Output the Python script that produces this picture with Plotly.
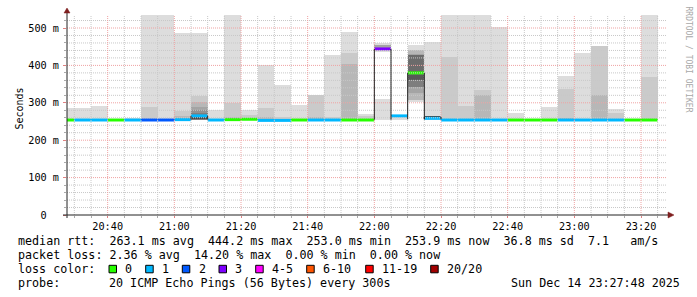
import plotly.graph_objects as go
from datetime import datetime, timedelta

DATE = "2025-12-14"
interval_end = ["20:30", "20:35", "20:40", "20:45", "20:50", "20:55",
                "21:00", "21:05", "21:10", "21:15", "21:20", "21:25",
                "21:30", "21:35", "21:40", "21:45", "21:50", "21:55",
                "22:00", "22:05", "22:10", "22:15", "22:20", "22:25",
                "22:30", "22:35", "22:40", "22:45", "22:50", "22:55",
                "23:00", "23:05", "23:10", "23:15", "23:20", "23:25"]
median_ms = [254, 254, 254, 254, 254, 254, 254, 255, 265, 254, 255, 256,
             253, 253, 254, 254, 254, 254, 254, 444, 265, 380, 258.5, 254,
             254, 254, 254, 254, 254, 254, 254, 254, 254, 254, 254, 254]
lost_pings = [0, 1, 1, 0, 1, 2, 2, 1, 1, 1, 0, 0,
              1, 1, 0, 1, 1, 0, 0, 3, 1, 0, 1, 1,
              1, 1, 1, 0, 0, 0, 1, 1, 1, 1, 0, 0]
smoke_min = [253, 253, 253, 253, 253, 253, 253, 253, 253, 253, 253, 253,
             253, 253, 253, 253, 253, 253, 253, 255, 254, 303, 253, 253,
             253, 253, 253, 253, 253, 253, 253, 253, 253, 253, 253, 253]
smoke_max = [287, 287, 291, 256, 260, 560, 560, 486, 486, 281, 560, 282,
             401, 348, 294, 321, 428, 490, 270, 461, 268, 455, 463, 560,
             560, 560, 503, 273, 256, 288, 371, 434, 453, 283, 256, 560]
smoke_q2 = [None, None, None, None, None, 290, 258, 278, 318, None, 300, 267,
            287, 262, 258, 320, 262, 432, 265, None, None, None, None, 423,
            291, 334, None, None, None, None, 336, 258, 452, 273, None, 370]
smoke_q3 = [None, None, None, None, None, None, None, 266, 301, None, 262, None,
            262, None, None, 262, None, 405, None, None, None, None, None, None,
            None, 322, None, None, None, None, 260, None, 322, None, None, 258]

# extra inner smoke bands (interval end, low, high, shade level)
extra_end = ["21:10", "21:10", "21:10", "21:10", "21:10", "22:05",
             "22:15", "22:15", "22:15", "22:15", "22:15", "22:20"]
extra_lo = [253, 254, 255, 256, 256, 447, 307, 325, 343, 361, 361, 262]
extra_hi = [289, 280, 274, 268, 263, 455, 441, 430, 428, 428, 375, 265]
extra_level = [4, 5, 6, 7, 9, 4, 3, 4, 6, 7, 8, 9]

# empty (unfilled) part of the smoke
gap_end = ["22:05"]
gap_lo = [310]
gap_hi = [435]

# dark outlines min..median
edge_end = ["21:10", "22:05", "22:15", "22:20"]
edge_lo = [256, 255, 256, 256]
edge_hi = [265, 444, 380, 262]

y_tick_vals = [0, 100, 200, 300, 400, 500]
y_tick_text = ["0\u00a0\u00a0", "100\u00a0m", "200\u00a0m", "300\u00a0m", "400\u00a0m", "500\u00a0m"]
x_tick_text = ["20:40", "21:00", "21:20", "21:40", "22:00", "22:20", "22:40", "23:00", "23:20"]

loss_colors = ["#26ff00", "#00b8ff", "#0059ff", "#7e00ff", "#ff00ff", "#ff5500", "#ff0000", "#a10000"]
loss_labels = ["0", "1", "2", "3", "4-5", "6-10", "11-19", "20/20"]

legend_line1 = "median rtt:  263.1 ms avg  444.2 ms max  253.0 ms min  253.9 ms now  36.8 ms sd  7.1   am/s"
legend_line2 = "packet loss: 2.36 % avg  14.20 % max  0.00 % min  0.00 % now"
probe_text = "20 ICMP Echo Pings (56 Bytes) every 300s"
stamp_text = "Sun Dec 14 23:27:48 2025"

# ---------------------------------------------------------------
FIVE = timedelta(minutes=5)


def t(hm):
    return datetime.strptime(DATE + " " + hm, "%Y-%m-%d %H:%M")


def shade(level):
    if level == 0:
        return "#ffffff"
    g = int(190 / 10 * (10 - level)) + 50
    return "rgb(%d,%d,%d)" % (g, g, g)


ends = [t(h) for h in interval_end]
centers = [e - FIVE / 2 for e in ends]

fig = go.Figure()


def add_band(xs, lo, hi, color):
    fig.add_trace(go.Bar(x=xs, y=[h - l for l, h in zip(lo, hi)], base=lo,
                         width=[300000] * len(xs), marker=dict(color=color, line=dict(width=0)),
                         hoverinfo="skip", showlegend=False))


add_band(centers, smoke_min, smoke_max, shade(1))
for q, lvl in ((smoke_q2, 2), (smoke_q3, 3)):
    xs, lo, hi = [], [], []
    for c, m, v in zip(centers, smoke_min, q):
        if v is not None:
            xs.append(c); lo.append(m); hi.append(v)
    add_band(xs, lo, hi, shade(lvl))

add_band([t(h) - FIVE / 2 for h in gap_end], gap_lo, gap_hi, "#ffffff")
for e, l, h, lv in zip(extra_end, extra_lo, extra_hi, extra_level):
    add_band([t(e) - FIVE / 2], [l], [h], shade(lv))

for k in sorted(set(lost_pings)):
    mx, my = [], []
    for e, m, lp in zip(ends, median_ms, lost_pings):
        if lp == k:
            mx += [e - FIVE, e, None]
            my += [m, m, None]
    fig.add_trace(go.Scatter(x=mx, y=my, mode="lines", line=dict(color=loss_colors[k], width=3),
                             hoverinfo="skip", showlegend=False))

# ---------------------------------------------------------------
L, R, T, B = 67, 30, 15, 82
W, H = 697, 297
PW, PH = W - L - R, H - T - B
YMAX = PH / 0.374
x0 = datetime(2025, 12, 14, 20, 27, 48)
x1 = datetime(2025, 12, 14, 23, 27, 48)


def px(x):
    return (x - L) / PW


def py(y):
    return (T + PH - y) / PH


shapes = []
MINOR = "#c8c8c8"
MAJOR = "#efa3a3"
for v in range(20, 540, 20):
    if v > YMAX:
        break
    shapes.append(dict(type="line", xref="paper", yref="y", x0=0, x1=1, y0=v, y1=v, layer="above",
                       line=dict(color=MAJOR if v % 100 == 0 else MINOR, width=1, dash="1px,1px")))
g = datetime(2025, 12, 14, 20, 30)
while g < x1:
    major = (g.minute % 20 == 0)
    shapes.append(dict(type="line", xref="x", yref="paper", x0=g, x1=g, y0=0, y1=1, layer="above",
                       line=dict(color=MAJOR if major else MINOR, width=1, dash="1px,1px")))
    g += FIVE

# dark smoke outlines, drawn over the grid
for e, l, h in zip(edge_end, edge_lo, edge_hi):
    for xe in (t(e) - FIVE, t(e)):
        shapes.append(dict(type="line", xref="x", yref="y", x0=xe, x1=xe, y0=l, y1=h, layer="above",
                           line=dict(color="#222222", width=1)))

AX = "#222222"
ARROW = "#7f1f1f"
shapes.append(dict(type="line", xref="paper", yref="paper", x0=px(63), x1=px(669), y0=0, y1=0,
                   layer="above", line=dict(color=AX, width=1)))
shapes.append(dict(type="line", xref="paper", yref="paper", x0=0, x1=0, y0=py(218), y1=py(12),
                   layer="above", line=dict(color=AX, width=1)))
shapes.append(dict(type="path", xref="paper", yref="paper", layer="above",
                   path="M %f,%f L %f,%f L %f,%f Z" % (px(64), py(13), px(70), py(13), px(67), py(8)),
                   fillcolor=ARROW, line=dict(color=ARROW, width=0.5)))
shapes.append(dict(type="path", xref="paper", yref="paper", layer="above",
                   path="M %f,%f L %f,%f L %f,%f Z" % (px(668), py(212), px(668), py(218), px(674), py(215)),
                   fillcolor=ARROW, line=dict(color=ARROW, width=0.5)))

MONO = "DejaVu Sans Mono"
LEG = 11.7
annotations = []


def text(x, y, s, size=LEG, color="#000000", anchor="left", angle=0):
    annotations.append(dict(x=px(x), y=py(y), xref="paper", yref="paper", text=s.replace(" ", "\u00a0"),
                            showarrow=False, xanchor=anchor, yanchor="middle", textangle=angle,
                            font=dict(family=MONO, size=size, color=color)))


text(16, 241, legend_line1)
text(16, 254.5, legend_line2)
text(16, 268.5, "loss color:")
box_x = [109, 145.7, 182.3, 219, 255.7, 306.7, 365.7, 430.7]
for bx, col, lab in zip(box_x, loss_colors, loss_labels):
    shapes.append(dict(type="rect", xref="paper", yref="paper", x0=px(bx), x1=px(bx + 7.5),
                       y0=py(272.8), y1=py(265.3), fillcolor=col, line=dict(color="#000000", width=1)))
    text(bx + 14.2, 268.5, lab)
text(16, 282.5, "probe:")
text(107.3, 282.5, probe_text)
text(681.5, 282.5, stamp_text, anchor="right")
text(11, 109, "Seconds", size=10, angle=-90)
annotations.append(dict(x=px(687.5), y=py(59), xref="paper", yref="paper", text="RRDTOOL / TOBI OETIKER".replace(" ", "\u00a0"),
                        showarrow=False, xanchor="center", yanchor="middle", textangle=90,
                        font=dict(family=MONO, size=8, color="#a8a8a8")))

fig.update_layout(
    width=W, height=H, margin=dict(l=L, r=R, t=T, b=B, pad=0),
    paper_bgcolor="#ffffff", plot_bgcolor="#ffffff",
    barmode="overlay", bargap=0, showlegend=False,
    shapes=shapes, annotations=annotations,
    font=dict(family=MONO, size=10.2, color="#000000"),
    xaxis=dict(type="date", range=[x0, x1], showgrid=False, zeroline=False, showline=False,
               tickvals=[t(s) for s in x_tick_text], ticktext=x_tick_text,
               ticks="outside", ticklen=2, tickcolor="#e08080",
               tickfont=dict(family=MONO, size=10.2, color="#000000"),
               minor=dict(dtick=300000, tick0=t("20:30"), ticks="outside", ticklen=2, tickcolor="#aaaaaa", showgrid=False)),
    yaxis=dict(range=[0, YMAX], showgrid=False, zeroline=False, showline=False,
               tickvals=y_tick_vals, ticktext=y_tick_text, ticks="outside", ticklen=3, tickcolor="#e08080",
               ticklabelstandoff=2,
               tickfont=dict(family=MONO, size=10.2, color="#000000"),
               minor=dict(dtick=20, ticks="outside", ticklen=2, tickcolor="#aaaaaa", showgrid=False)),
)

fig.write_html("out.html")
